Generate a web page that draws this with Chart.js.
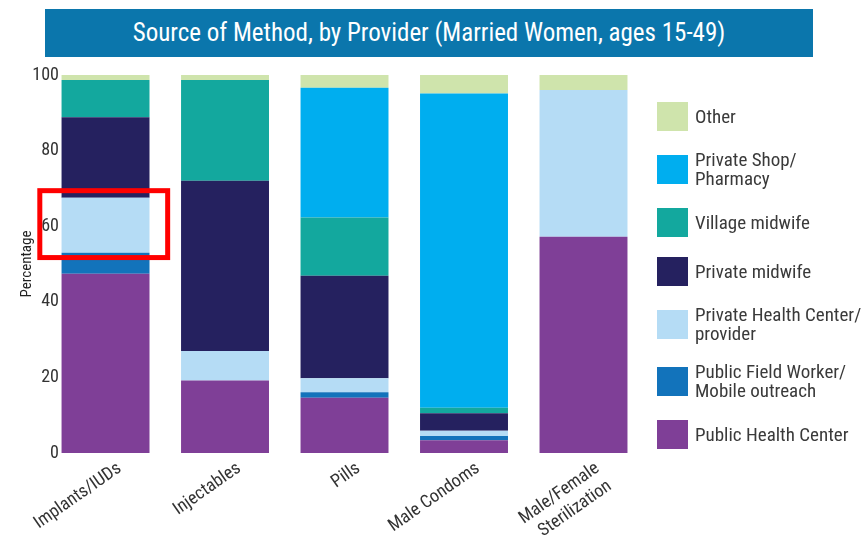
<!DOCTYPE html>
<html>
<head>
<meta charset="utf-8">
<script src="https://cdn.jsdelivr.net/npm/chart.js@4.4.1/dist/chart.umd.min.js"></script>
<style>
  html, body { margin: 0; padding: 0; background: #ffffff; overflow: hidden; }
  #wrap { position: relative; width: 865px; height: 543px; }
  #chartBox { position: absolute; left: 0; top: 0; width: 865px; height: 543px; }
  #banner {
    position: absolute; left: 45px; top: 9px; width: 768px; height: 48px;
    background: #0b76ac; color: #ffffff;
    font-family: 'Roboto Condensed', sans-serif;
    font-size: 25px; line-height: 48px; text-align: center;
  }
  #legend {
    position: absolute; left: 657px; top: 101px; width: 208px;
    font-family: 'Roboto Condensed', sans-serif;
    font-size: 19px; line-height: 19px; color: #3a3a3a;
  }
  .item { display: flex; align-items: center; margin-bottom: 19px; min-height: 30px; white-space: nowrap; }
  .box { width: 31px; height: 29px; flex: 0 0 31px; margin-right: 7px; }
</style>
</head>
<body>
<div id="wrap">
  <div id="chartBox"><canvas id="c"></canvas></div>
  <div id="banner">Source of Method, by Provider (Married Women, ages 15-49)</div>
  <div id="legend"></div>
</div>
<script>
// ---- data ----
const categories = ['Implants/IUDs', 'Injectables', 'Pills', 'Male Condoms', ['Male/Female', 'Sterilization']];
const publicHealthCenter  = [47.4, 19.2, 14.6, 3.4, 57.2];
const publicFieldWorker   = [5.6, 0, 1.5, 1.1, 0];
const privateHealthCenter = [14.5, 7.8, 3.7, 1.4, 38.8];
const privateMidwife      = [21.3, 45.0, 27.1, 4.6, 0];
const villageMidwife      = [9.9, 26.7, 15.4, 1.5, 0];
const privateShop         = [0, 0, 34.3, 83.1, 0];
const other               = [1.3, 1.3, 3.4, 4.9, 4.0];
const yTicks = [0, 20, 40, 60, 80, 100];
const highlightCategory = 0;
const highlightRange = [51.7, 69.4];

const seriesNames = [
  'Public Health Center',
  ['Public Field Worker/', 'Mobile outreach'],
  ['Private Health Center/', 'provider'],
  'Private midwife',
  'Village midwife',
  ['Private Shop/', 'Pharmacy'],
  'Other'
];
const seriesData = [publicHealthCenter, publicFieldWorker, privateHealthCenter, privateMidwife, villageMidwife, privateShop, other];
const seriesColors = ['#7f3f97', '#1273bb', '#b5dcf5', '#25215f', '#13a89e', '#00aeef', '#cfe4ac'];

const FONT = "'Roboto Condensed', sans-serif";

const datasets = seriesData.map((d, i) => ({
  label: Array.isArray(seriesNames[i]) ? seriesNames[i].join(' ') : seriesNames[i],
  data: d.map((v, k) => ({ x: k, y: v })),
  backgroundColor: seriesColors[i],
  borderWidth: 0,
  categoryPercentage: 1.0,
  barPercentage: 0.736
}));

const highlightPlugin = {
  id: 'highlight',
  afterDatasetsDraw(chart) {
    const x = chart.scales.x, y = chart.scales.y, ctx = chart.ctx;
    const x1 = x.getPixelForValue(highlightCategory - 0.55);
    const x2 = x.getPixelForValue(highlightCategory + 0.52);
    const y1 = y.getPixelForValue(highlightRange[1]);
    const y2 = y.getPixelForValue(highlightRange[0]);
    ctx.save();
    ctx.strokeStyle = '#ff0000';
    ctx.lineWidth = 5;
    ctx.strokeRect(x1, y1, x2 - x1, y2 - y1);
    ctx.restore();
  }
};

new Chart(document.getElementById('c'), {
  type: 'bar',
  data: { datasets },
  options: {
    responsive: true,
    maintainAspectRatio: false,
    animation: false,
    layout: { padding: { left: 0, right: 221.75, top: 75, bottom: 0 } },
    plugins: { legend: { display: false }, tooltip: { enabled: false } },
    scales: {
      x: {
        type: 'linear',
        stacked: true,
        min: -0.381, max: 4.5,
        offset: false,
        grid: { display: false },
        border: { display: false },
        afterBuildTicks(s) { s.ticks = categories.map((c, i) => ({ value: i })); },
        ticks: {
          color: '#333333',
          font: { family: FONT, size: 18 },
          maxRotation: 35, minRotation: 35,
          autoSkip: false,
          labelOffset: 14,
          padding: -3,
          callback: (v) => categories[v]
        },
        afterFit(s) { s.height = 90; }
      },
      y: {
        stacked: true,
        min: 0, max: 100,
        grid: { display: false, drawTicks: false },
        border: { display: false },
        afterBuildTicks(s) { s.ticks = yTicks.map(v => ({ value: v })); },
        ticks: {
          color: '#333333',
          font: { family: FONT, size: 18 },
          padding: 1
        },
        title: {
          display: true,
          text: 'Percentage',
          color: '#222222',
          font: { family: FONT, size: 15 },
          padding: { top: 18, bottom: 0 }
        },
        afterFit(s) { s.width = 60; }
      }
    }
  },
  plugins: [highlightPlugin]
});

// HTML legend (top-to-bottom = reverse stacking order)
const legend = document.getElementById('legend');
for (let i = seriesNames.length - 1; i >= 0; i--) {
  const item = document.createElement('div');
  item.className = 'item';
  const box = document.createElement('div');
  box.className = 'box';
  box.style.background = seriesColors[i];
  const txt = document.createElement('div');
  const name = seriesNames[i];
  txt.innerHTML = Array.isArray(name) ? name.join('<br>') : name;
  item.appendChild(box);
  item.appendChild(txt);
  legend.appendChild(item);
}
</script>
</body>
</html>
